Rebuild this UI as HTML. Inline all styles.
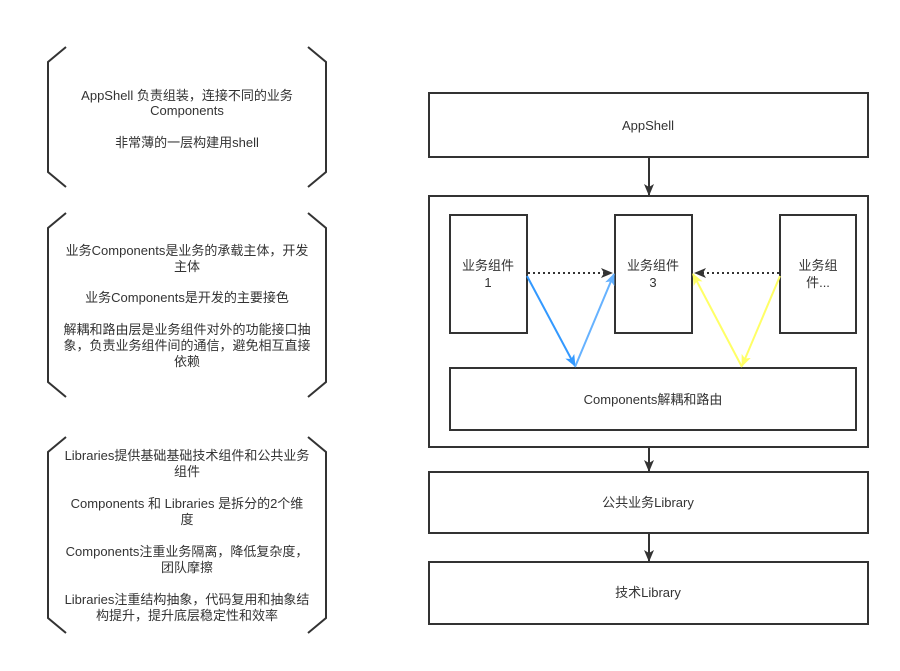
<!DOCTYPE html>
<html><head><meta charset="utf-8"><style>
html,body{margin:0;padding:0;background:#fff;}
svg text{font-family:"Liberation Sans","Noto Sans CJK SC",sans-serif;font-size:13px;fill:#333;text-anchor:middle;}
</style></head><body>
<svg width="900" height="666" viewBox="0 0 900 666" xmlns="http://www.w3.org/2000/svg">
<defs>
<marker id="ak" markerWidth="12" markerHeight="10" refX="11" refY="5" orient="auto" markerUnits="userSpaceOnUse"><path d="M0,0 L12,5 L0,10 L3,5 Z" fill="#333"/></marker>
<marker id="ab" markerWidth="12" markerHeight="10" refX="11" refY="5" orient="auto" markerUnits="userSpaceOnUse"><path d="M0,0 L12,5 L0,10 L3,5 Z" fill="#3399ff"/></marker>
<marker id="alb" markerWidth="12" markerHeight="10" refX="11" refY="5" orient="auto" markerUnits="userSpaceOnUse"><path d="M0,0 L12,5 L0,10 L3,5 Z" fill="#66b2ff"/></marker>
<marker id="ay" markerWidth="12" markerHeight="10" refX="11" refY="5" orient="auto" markerUnits="userSpaceOnUse"><path d="M0,0 L12,5 L0,10 L3,5 Z" fill="#ffff66"/></marker>
</defs>
<g fill="none" stroke="#333" stroke-width="2">
<path d="M66,47 L48,62 L48,172 L66,187"/><path d="M308,47 L326,62 L326,172 L308,187"/>
<path d="M66,213 L48,228 L48,382 L66,397"/><path d="M308,213 L326,228 L326,382 L308,397"/>
<path d="M66,437 L48,452 L48,618 L66,633"/><path d="M308,437 L326,452 L326,618 L308,633"/>
<rect x="429" y="93" width="439" height="64"/>
<rect x="429" y="196" width="439" height="251"/>
<rect x="450" y="215" width="77" height="118"/>
<rect x="615" y="215" width="77" height="118"/>
<rect x="780" y="215" width="76" height="118"/>
<rect x="450" y="368" width="406" height="62"/>
<rect x="429" y="472" width="439" height="61"/>
<rect x="429" y="562" width="439" height="62"/>
</g>
<g stroke="#333" stroke-width="2" fill="none">
<line x1="649" y1="157" x2="649" y2="195" marker-end="url(#ak)"/>
<line x1="649" y1="447" x2="649" y2="471" marker-end="url(#ak)"/>
<line x1="649" y1="533" x2="649" y2="561" marker-end="url(#ak)"/>
<line x1="528" y1="273" x2="612" y2="273" stroke-dasharray="2,3" marker-end="url(#ak)"/>
<line x1="779" y1="273" x2="695" y2="273" stroke-dasharray="2,3" marker-end="url(#ak)"/>
<line x1="527" y1="276" x2="575" y2="366" stroke="#3399ff" marker-end="url(#ab)"/>
<line x1="575" y1="367" x2="614" y2="274" stroke="#66b2ff" marker-end="url(#alb)"/>
<line x1="742" y1="367" x2="693" y2="274" stroke="#ffff66" marker-end="url(#ay)"/>
<line x1="780" y1="276" x2="742" y2="366" stroke="#ffff66" marker-end="url(#ay)"/>
</g>
<text x="187" y="100">AppShell 负责组装，连接不同的业务</text>
<text x="187" y="115">Components</text>
<text x="187" y="147">非常薄的一层构建用shell</text>
<text x="187" y="255">业务Components是业务的承载主体，开发</text>
<text x="187" y="271">主体</text>
<text x="187" y="302">业务Components是开发的主要接色</text>
<text x="187" y="334">解耦和路由层是业务组件对外的功能接口抽</text>
<text x="187" y="350">象，负责业务组件间的通信，避免相互直接</text>
<text x="187" y="366">依赖</text>
<text x="187" y="460">Libraries提供基础基础技术组件和公共业务</text>
<text x="187" y="476">组件</text>
<text x="187" y="508">Components 和 Libraries 是拆分的2个维</text>
<text x="187" y="524">度</text>
<text x="187" y="556">Components注重业务隔离，降低复杂度，</text>
<text x="187" y="572">团队摩擦</text>
<text x="187" y="604">Libraries注重结构抽象，代码复用和抽象结</text>
<text x="187" y="620">构提升，提升底层稳定性和效率</text>
<text x="648" y="130">AppShell</text>
<text x="488" y="270">业务组件</text>
<text x="488" y="287">1</text>
<text x="653" y="270">业务组件</text>
<text x="653" y="287">3</text>
<text x="818" y="270">业务组</text>
<text x="818" y="287">件...</text>
<text x="653" y="404">Components解耦和路由</text>
<text x="648" y="507">公共业务Library</text>
<text x="648" y="597">技术Library</text>
</svg>
</body></html>
